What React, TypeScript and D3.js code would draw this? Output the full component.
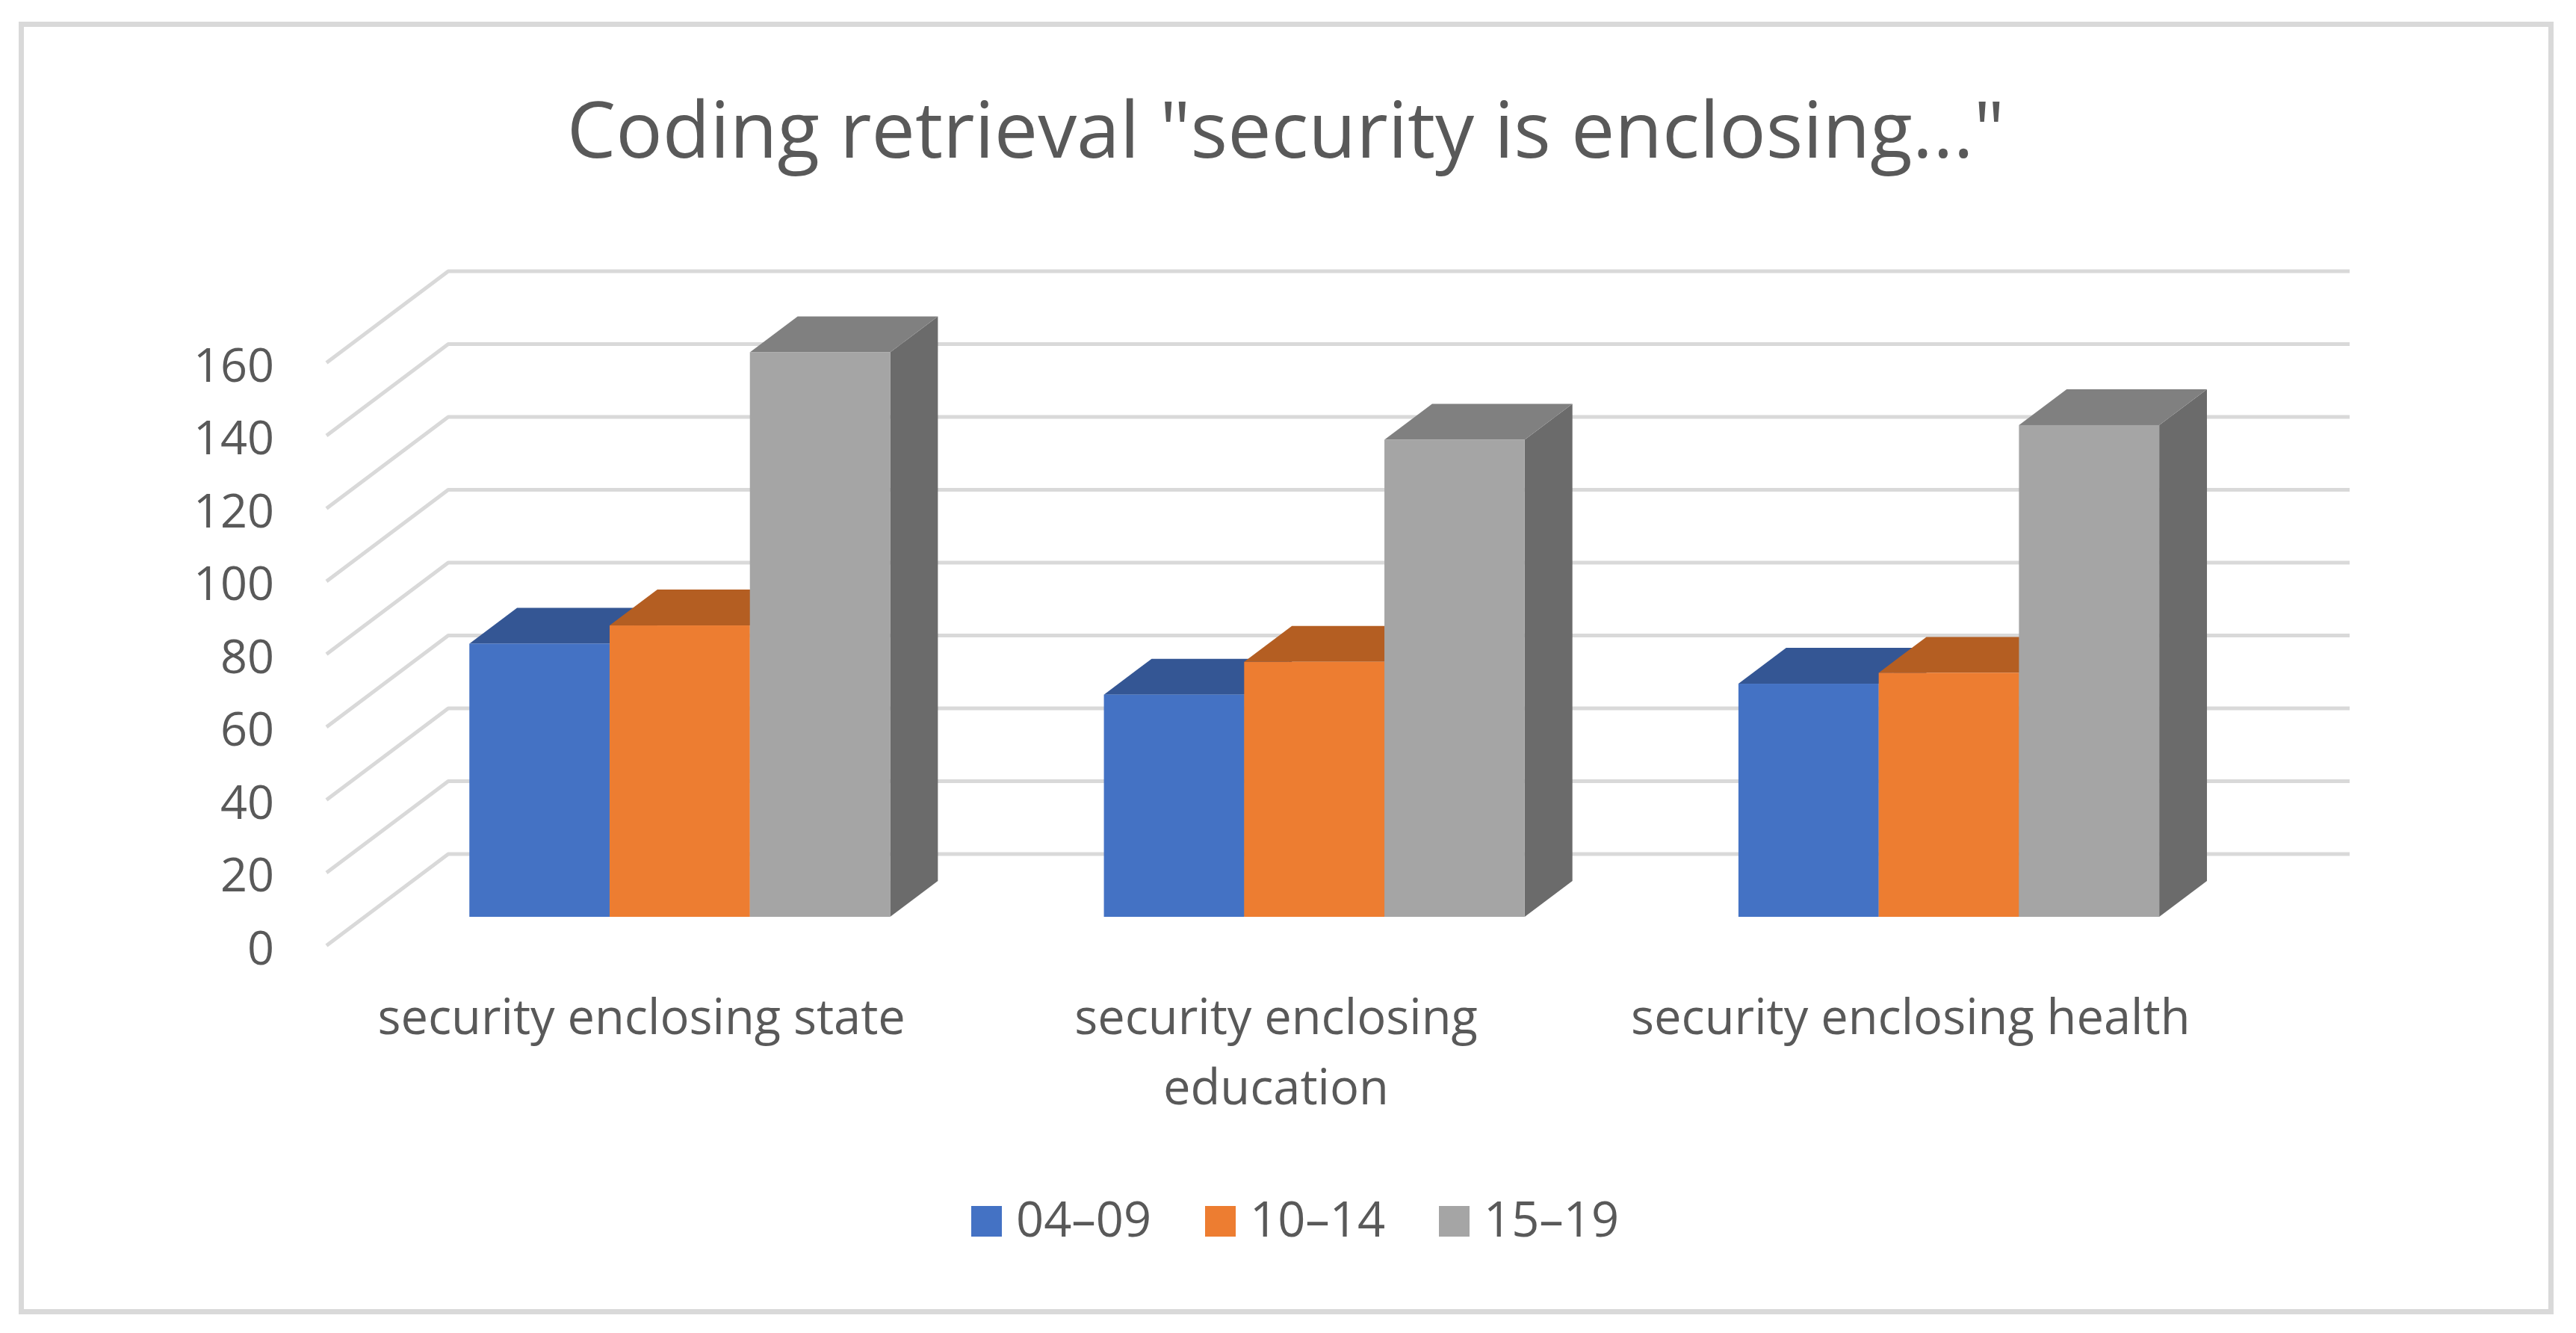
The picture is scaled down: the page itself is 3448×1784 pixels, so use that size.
import React, { useEffect, useRef } from "react";
import * as d3 from "d3";

const chartTitle = 'Coding retrieval "security is enclosing..."';
const categories = [
  "security enclosing state",
  "security enclosing education",
  "security enclosing health",
];
const seriesNames = ["04–09", "10–14", "15–19"];
const values0409 = [75, 61, 64];
const values1014 = [80, 70, 67];
const values1519 = [155, 131, 135];
const yTicks = [0, 20, 40, 60, 80, 100, 120, 140, 160];

const frontColors = ["#4472C4", "#ED7D31", "#A5A5A5"];
const topColors = ["#345694", "#B45E22", "#808080"];
const sideColors = ["#2C4A80", "#9A5120", "#6B6B6B"];

const W = 3448;
const H = 1784;
const FONT = "'Open Sans', 'Noto Sans', sans-serif";
const TEXT = "#595959";

export default function App() {
  const ref = useRef<SVGSVGElement>(null);

  useEffect(() => {
    const svg = d3.select(ref.current);
    svg.selectAll("*").remove();

    const seriesValues = [values0409, values1014, values1519];

    // back wall geometry
    const yBack = d3.scaleLinear().domain([0, 160]).range([1143, 363]);
    const x0 = d3.scaleBand<string>().domain(categories).range([597, 3145]).padding(0);
    const x1 = d3
      .scaleBand<string>()
      .domain(seriesNames)
      .range([0, x0.bandwidth()])
      .paddingInner(0)
      .paddingOuter(0.762);
    const depthDx = -163;
    const depthDy = 122.5;
    const fFront = 0.686;
    const fBack = 0.294;
    const ox = (fBack - fFront) * depthDx;
    const oy = (fBack - fFront) * depthDy;
    const wallLeft = 600;

    // frame
    svg
      .append("rect")
      .attr("x", 0)
      .attr("y", 0)
      .attr("width", W)
      .attr("height", H)
      .attr("fill", "#ffffff");
    svg
      .append("rect")
      .attr("x", 28.5)
      .attr("y", 32.5)
      .attr("width", 3386)
      .attr("height", 1723)
      .attr("fill", "#ffffff")
      .attr("stroke", "#D9D9D9")
      .attr("stroke-width", 7);

    // title
    svg
      .append("text")
      .attr("x", 1721)
      .attr("y", 211)
      .attr("text-anchor", "middle")
      .attr("font-family", FONT)
      .attr("font-size", 104)
      .attr("fill", TEXT)
      .text(chartTitle);

    // gridlines
    const grid = svg.append("g").attr("stroke", "#D9D9D9").attr("stroke-width", 5).attr("fill", "none");
    yTicks.forEach((t) => {
      const yb = yBack(t);
      grid
        .append("path")
        .attr("d", `M${wallLeft + depthDx},${yb + depthDy}L${wallLeft},${yb}L3145,${yb}`)
        .attr("stroke-linejoin", "round");
    });

    // axis labels
    svg
      .append("g")
      .selectAll("text")
      .data(yTicks)
      .join("text")
      .attr("x", 367)
      .attr("y", (d) => yBack(d) + depthDy + 25)
      .attr("text-anchor", "end")
      .attr("font-family", FONT)
      .attr("font-size", 63)
      .attr("fill", TEXT)
      .text((d) => String(d));

    // bars
    const bars = svg.append("g");
    categories.forEach((c, ci) => {
      seriesNames.forEach((s, si) => {
        const v = seriesValues[si][ci];
        const x = (x0(c) as number) + (x1(s) as number) + fFront * depthDx;
        const w = x1.bandwidth();
        const yt = yBack(v) + fFront * depthDy;
        const yb = yBack(0) + fFront * depthDy;
        const g = bars.append("g");
        g.append("path")
          .attr("d", `M${x + w},${yt}L${x + w + ox},${yt + oy}L${x + w + ox},${yb + oy}L${x + w},${yb}Z`)
          .attr("fill", sideColors[si]);
        g.append("path")
          .attr("d", `M${x},${yt}L${x + ox},${yt + oy}L${x + w + ox},${yt + oy}L${x + w},${yt}Z`)
          .attr("fill", topColors[si]);
        g.append("rect")
          .attr("x", x)
          .attr("y", yt)
          .attr("width", w)
          .attr("height", yb - yt)
          .attr("fill", frontColors[si]);
      });
    });

    // category labels with wrapping
    const maxWidth = 800;
    const lineHeight = 94;
    categories.forEach((c) => {
      const cx = (x0(c) as number) + x0.bandwidth() / 2 + depthDx;
      const text = svg
        .append("text")
        .attr("x", cx)
        .attr("y", 1384)
        .attr("text-anchor", "middle")
        .attr("font-family", FONT)
        .attr("font-size", 65)
        .attr("fill", TEXT);
      const words = c.split(" ");
      let line: string[] = [];
      let lineNo = 0;
      let tspan = text.append("tspan").attr("x", cx).attr("y", 1384);
      words.forEach((word) => {
        line.push(word);
        tspan.text(line.join(" "));
        const node = tspan.node() as SVGTSpanElement;
        if (node.getComputedTextLength() > maxWidth && line.length > 1) {
          line.pop();
          tspan.text(line.join(" "));
          line = [word];
          lineNo += 1;
          tspan = text
            .append("tspan")
            .attr("x", cx)
            .attr("y", 1384 + lineNo * lineHeight)
            .text(word);
        }
      });
    });

    // legend
    const legendX = [1300, 1613, 1926];
    const legend = svg.append("g");
    seriesNames.forEach((s, i) => {
      legend
        .append("rect")
        .attr("x", legendX[i])
        .attr("y", 1614)
        .attr("width", 41)
        .attr("height", 41)
        .attr("fill", frontColors[i]);
      legend
        .append("text")
        .attr("x", legendX[i] + 60)
        .attr("y", 1655)
        .attr("font-family", FONT)
        .attr("font-size", 65)
        .attr("fill", TEXT)
        .text(s);
    });
  }, []);

  return (
    <svg
      ref={ref}
      width={W}
      height={H}
      viewBox={`0 0 ${W} ${H}`}
      style={{ position: "absolute", left: 0, top: 0, display: "block" }}
    />
  );
}
